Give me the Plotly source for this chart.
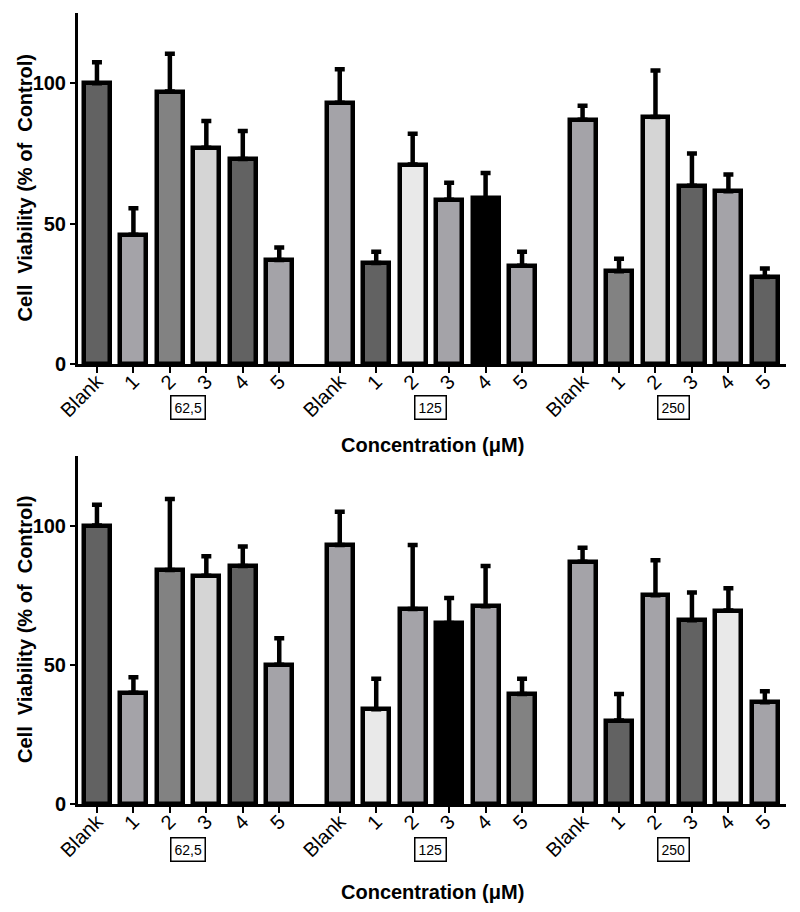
import plotly.graph_objects as go

# ---------------- data ----------------
groups = ["62,5", "125", "250"]
bar_labels = ["Blank", "1", "2", "3", "4", "5"]
y_ticks = [0, 50, 100]

top_values = [100, 46, 97, 77, 73, 37,
              93, 36, 71, 58.5, 59, 35,
              87, 33, 88, 63.5, 61.5, 31]
top_errors = [7.5, 9.5, 13.5, 9.5, 10, 4.5,
              12, 4, 11, 6, 9, 5,
              5, 4.5, 16.5, 11.5, 6, 3]

bottom_values = [100, 40, 84, 82, 85.5, 50,
                 93, 34, 70, 65, 71, 39.5,
                 87, 30, 75, 66, 69.5, 36.5]
bottom_errors = [7.5, 5.5, 25.5, 7, 7, 9.5,
                 12, 11, 23, 9, 14.5, 5.5,
                 5, 9.5, 12.5, 10, 8, 4]

# ---------------- styles ----------------
D = "#626262"   # dark grey
M = "#a4a3a8"   # medium grey
G = "#828282"   # mid-dark grey
L = "#d5d5d5"   # light grey
V = "#e9e9e9"   # very light grey
K = "#000000"   # black

top_colors = [D, M, G, L, D, M,
              M, D, V, M, K, M,
              M, G, L, D, M, D]
bottom_colors = [D, M, G, L, D, M,
                 M, V, M, K, M, G,
                 M, D, M, D, V, M]

GAP = 6.66
xpos = [g * GAP + i for g in range(len(groups)) for i in range(len(bar_labels))]
xtext = bar_labels * len(groups)

FONT = "Liberation Sans, Arial, sans-serif"

fig = go.Figure()

panels = [
    (top_values, top_errors, top_colors, "x", "y"),
    (bottom_values, bottom_errors, bottom_colors, "x2", "y2"),
]
for vals, errs, cols, xa, ya in panels:
    fig.add_trace(go.Bar(
        x=xpos, y=vals, width=0.71,
        marker=dict(color=cols, line=dict(color="black", width=4.5)),
        error_y=dict(type="data", array=errs, arrayminus=[0] * len(errs),
                     symmetric=False, color="black", thickness=4.5, width=5),
        xaxis=xa, yaxis=ya, showlegend=False, hoverinfo="skip",
    ))

xaxis_common = dict(
    range=[-0.52, 2 * GAP + 5 + 0.58],
    tickmode="array", tickvals=xpos, ticktext=xtext, tickangle=-45,
    ticks="outside", ticklen=6, tickwidth=2, tickcolor="black",
    ticklabelstandoff=-11,
    showline=True, linewidth=3, linecolor="black",
    showgrid=False, zeroline=False,
    tickfont=dict(family=FONT, size=20, color="black"),
    fixedrange=True, automargin=False,
)
yaxis_common = dict(
    range=[0, 125], tickmode="array", tickvals=y_ticks,
    ticktext=["<b>%d</b>" % t for t in y_ticks],
    ticks="outside", ticklen=5, tickwidth=2, tickcolor="black",
    showline=True, linewidth=3, linecolor="black",
    showgrid=False, zeroline=False,
    tickfont=dict(family=FONT, size=20, color="black"),
    fixedrange=True, automargin=False,
)

# page body has an 8px margin, so the figure is shifted by 8px
fig.update_layout(
    width=784, height=896,
    margin=dict(l=70, r=6, t=5, b=100),
    paper_bgcolor="white", plot_bgcolor="white",
    bargap=0,
    xaxis=dict(domain=[0, 1], anchor="y", **xaxis_common),
    yaxis=dict(domain=[0.5563, 1], anchor="x", **yaxis_common),
    xaxis2=dict(domain=[0, 1], anchor="y2", **xaxis_common),
    yaxis2=dict(domain=[0, 0.44], anchor="x2", **yaxis_common),
)

annotations = []
for xa, ya, box_shift, title_shift in [("x", "y", -44, -81), ("x2", "y2", -45, -88)]:
    for g, name in enumerate(groups):
        annotations.append(dict(
            x=g * GAP + 2.5, xref=xa, y=0, yref=ya + " domain",
            yshift=box_shift, yanchor="middle", xanchor="center",
            text=name, showarrow=False,
            font=dict(family=FONT, size=14, color="black"),
            bordercolor="black", borderwidth=1.5, borderpad=3, bgcolor="white",
        ))
    annotations.append(dict(
        x=0.5, xref=xa + " domain", y=0, yref=ya + " domain",
        yshift=title_shift, yanchor="middle", xanchor="center",
        text="<b>Concentration (μM)</b>", showarrow=False,
        font=dict(family=FONT, size=20, color="black"),
    ))
    annotations.append(dict(
        x=0, xref=xa + " domain", y=0.5, yref=ya + " domain",
        xshift=-53, xanchor="center", yanchor="middle", textangle=-90,
        text="<b>Cell  Viability (% of  Control)</b>", showarrow=False,
        font=dict(family=FONT, size=20, color="black"),
    ))
fig.update_layout(annotations=annotations)

fig.write_html("out.html")
